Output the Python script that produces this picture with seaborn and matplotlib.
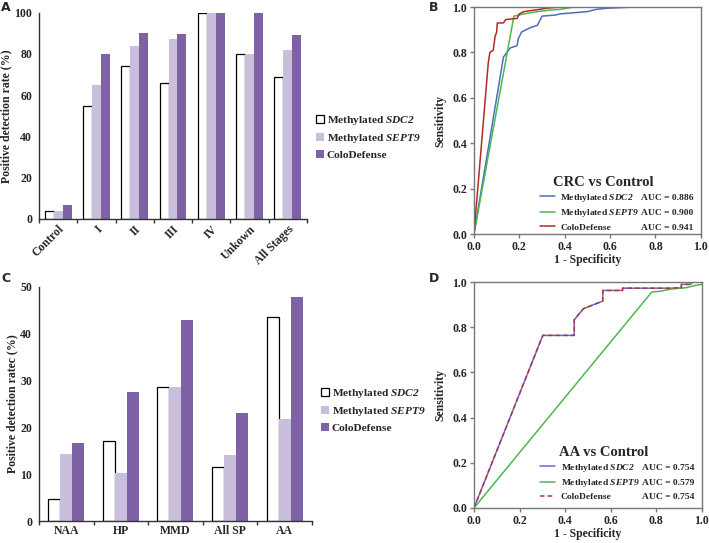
import numpy as np
import pandas as pd
import matplotlib
matplotlib.use("Agg")
import matplotlib.pyplot as plt
import seaborn as sns
from matplotlib.ticker import FixedLocator

# ---- data ----
stages = ["Control", "I", "II", "III", "IV", "Unkown", "All Stages"]
stage_sdc2 = [4, 55, 74, 66, 100, 80, 69]
stage_sept9 = [4, 65, 84, 87, 100, 80, 82]
stage_colo = [7, 80, 90, 89.5, 100, 100, 89]

lesions = ["NAA", "HP", "MMD", "All SP", "AA"]
lesion_sdc2 = [4.8, 17.2, 28.6, 11.5, 43.5]
lesion_sept9 = [14.3, 10.3, 28.6, 14.0, 21.7]
lesion_colo = [16.7, 27.6, 42.9, 23.0, 47.8]

# ROC, CRC vs control
crc_sdc2_fpr = [0.0, 0.13, 0.145, 0.16, 0.19, 0.195, 0.21, 0.25, 0.28, 0.29, 0.30, 0.36, 0.38, 0.50, 0.54, 0.59, 0.70, 1.0]
crc_sdc2_tpr = [0.0, 0.78, 0.80, 0.82, 0.83, 0.86, 0.89, 0.91, 0.92, 0.94, 0.96, 0.965, 0.97, 0.98, 0.99, 0.995, 1.0, 1.0]
crc_sept9_fpr = [0.0, 0.176, 0.22, 0.28, 0.32, 0.38, 0.44, 1.0]
crc_sept9_tpr = [0.0, 0.96, 0.97, 0.98, 0.985, 0.99, 1.0, 1.0]
crc_colo_fpr = [0.0, 0.063, 0.07, 0.085, 0.093, 0.10, 0.103, 0.13, 0.14, 0.19, 0.20, 0.22, 0.29, 0.32, 0.38, 1.0]
crc_colo_tpr = [0.0, 0.753, 0.80, 0.81, 0.87, 0.89, 0.93, 0.93, 0.945, 0.95, 0.97, 0.98, 0.99, 0.995, 1.0, 1.0]

# ROC, AA vs control
aa_sdc2_fpr = [0.0, 0.302, 0.44, 0.44, 0.48, 0.50, 0.565, 0.565, 0.652, 0.652, 0.87, 0.91, 0.91, 0.95, 0.96, 1.0]
aa_sdc2_tpr = [0.0, 0.764, 0.764, 0.833, 0.882, 0.89, 0.916, 0.963, 0.963, 0.973, 0.973, 0.975, 0.99, 0.99, 1.0, 1.0]
aa_colo_fpr = aa_sdc2_fpr
aa_colo_tpr = aa_sdc2_tpr
aa_sept9_fpr = [0.0, 0.78, 0.82, 0.87, 0.93, 0.97, 1.0]
aa_sept9_tpr = [0.0, 0.956, 0.96, 0.97, 0.975, 0.985, 0.99]

crc_auc = ["0.886", "0.900", "0.941"]
aa_auc = ["0.754", "0.579", "0.754"]

assays = ["Methylated SDC2", "Methylated SEPT9", "ColoDefense"]
assay_labels = [r"Methylated $\mathit{SDC2}$", r"Methylated $\mathit{SEPT9}$", "ColoDefense"]

sns.set_theme(style="white")
plt.rcParams["font.family"] = ["Liberation Serif", "DejaVu Serif"]
plt.rcParams["font.weight"] = "bold"
plt.rcParams["mathtext.fontset"] = "custom"
plt.rcParams["mathtext.it"] = "Liberation Serif:italic:bold"
plt.rcParams["mathtext.rm"] = "Liberation Serif:italic:bold"
plt.rcParams["mathtext.bf"] = "Liberation Serif:italic:bold"

bar_colors = ["#ffffff", "#c9bedc", "#7f62a5"]

fig = plt.figure(figsize=(7.09, 5.43), dpi=100)
axA = fig.add_axes([0.055, 0.5967, 0.378, 0.38])
axB = fig.add_axes([0.6685, 0.569, 0.320, 0.418])
axC = fig.add_axes([0.055, 0.0405, 0.385, 0.431])
axD = fig.add_axes([0.6685, 0.0645, 0.3215, 0.416])


def bar_panel(ax, cats, a, b, c, ylabel, ymax, ystep, width, rot, leg_y):
    df = pd.DataFrame({
        "cat": cats * 3,
        "val": a + b + c,
        "assay": [assays[0]] * len(cats) + [assays[1]] * len(cats) + [assays[2]] * len(cats),
    })
    sns.barplot(data=df, x="cat", y="val", hue="assay", palette=bar_colors,
                saturation=1, width=width, legend=False, ax=ax, linewidth=0)
    for i, cont in enumerate(ax.containers):
        for p in cont:
            if i == 0:
                p.set_edgecolor("black")
                p.set_linewidth(0.9)
    ax.set_xlim(-0.5, len(cats) - 0.5)
    ax.set_ylim(0, ymax)
    ax.set_yticks(np.arange(0, ymax + 1, ystep))
    ax.set_xlabel("")
    ax.set_ylabel(ylabel, fontsize=8.5, fontweight="bold", labelpad=1)
    sns.despine(ax=ax)
    for s in ["left", "bottom"]:
        ax.spines[s].set_color("#333333")
        ax.spines[s].set_linewidth(1.0)
    ax.tick_params(axis="y", direction="out", length=3, width=1, color="#333333", labelsize=8.5, pad=2)
    ax.tick_params(axis="x", which="major", length=0, labelsize=8.5, pad=3)
    ax.xaxis.set_minor_locator(FixedLocator(np.arange(-0.5, len(cats), 1)))
    ax.tick_params(axis="x", which="minor", direction="out", length=3, width=1, color="#333333", bottom=True)
    for t in ax.get_xticklabels():
        t.set_fontweight("bold")
        if rot:
            t.set_rotation(rot)
            t.set_ha("right")
            t.set_rotation_mode("anchor")
    for t in ax.get_yticklabels():
        t.set_fontweight("bold")
    handles = [cont[0] for cont in ax.containers]
    ax.legend(handles, assay_labels, loc="center left", bbox_to_anchor=(1.015, leg_y),
              frameon=False, fontsize=8.2, handlelength=0.75, handleheight=0.75,
              handletextpad=0.25, labelspacing=0.45, borderaxespad=0)


bar_panel(axA, stages, stage_sdc2, stage_sept9, stage_colo,
          "Positive detection rate (%)", 100, 20, 0.7, 45, 0.397)
bar_panel(axC, lesions, lesion_sdc2, lesion_sept9, lesion_colo,
          "Positive detection ratec (%)", 50, 10, 0.66, 0, 0.474)


def roc_panel(ax, curves, colors, dashed, title, aucs, leg_y):
    frames = []
    for name, (fx, ty) in zip(assays, curves):
        frames.append(pd.DataFrame({"fpr": fx, "tpr": ty, "assay": name}))
    df = pd.concat(frames, ignore_index=True)
    dashes = {a: ((3, 2) if a in dashed else "") for a in assays}
    sns.lineplot(data=df, x="fpr", y="tpr", hue="assay", style="assay", dashes=dashes,
                 palette=colors, hue_order=assays, style_order=assays,
                 sort=False, estimator=None, units="assay", legend=False,
                 linewidth=1.1, ax=ax)
    ticks = np.arange(0, 1.01, 0.2)
    ax.set_xlim(0, 1)
    ax.set_ylim(0, 1)
    ax.set_xticks(ticks)
    ax.set_yticks(ticks)
    ax.set_xticklabels([f"{v:.1f}" for v in ticks])
    ax.set_yticklabels([f"{v:.1f}" for v in ticks])
    ax.set_xlabel("1 - Specificity", fontsize=8.5, fontweight="bold", labelpad=1)
    ax.set_ylabel("Sensitivity", fontsize=8.5, fontweight="bold", labelpad=4)
    for s in ax.spines.values():
        s.set_visible(True)
        s.set_color("#777777")
        s.set_linewidth(1.0)
    ax.tick_params(direction="out", length=3, width=1, color="#777777", labelsize=8.5, pad=2,
                   bottom=True, left=True)
    for t in ax.get_xticklabels() + ax.get_yticklabels():
        t.set_fontweight("bold")
    lines = ax.get_lines()[:3]
    leg = ax.legend(lines, assay_labels, loc="lower left",
                    bbox_to_anchor=(0.26, leg_y), frameon=False, fontsize=6.8,
                    handlelength=1.6, handletextpad=0.6,
                    labelspacing=0.38, borderaxespad=0.3)
    fig.canvas.draw()
    inv = ax.transAxes.inverted()
    ys = []
    for txt, auc in zip(leg.get_texts(), aucs):
        bb = txt.get_window_extent()
        y = inv.transform(((bb.x0 + bb.x1) / 2, (bb.y0 + bb.y1) / 2))[1]
        ys.append(y)
        ax.text(0.735, y, f"AUC = {auc}", transform=ax.transAxes, fontsize=6.8,
                fontweight="bold", va="center", ha="left")
    ax.text(0.57, ys[0] + 0.068, title, transform=ax.transAxes, fontsize=10.5,
            fontweight="bold", va="center", ha="center")


roc_panel(axB, [(crc_sdc2_fpr, crc_sdc2_tpr), (crc_sept9_fpr, crc_sept9_tpr), (crc_colo_fpr, crc_colo_tpr)],
          ["#4e6cc4", "#4cb84c", "#b22a2a"], [], "CRC vs Control", crc_auc, -0.018)
roc_panel(axD, [(aa_sdc2_fpr, aa_sdc2_tpr), (aa_sept9_fpr, aa_sept9_tpr), (aa_colo_fpr, aa_colo_tpr)],
          ["#6f66d8", "#4cb84c", "#a83a3a"], ["ColoDefense"], "AA vs Control", aa_auc, 0.0)

for lab, x, y in [("A", 0.002, 0.998), ("B", 0.605, 0.998), ("C", 0.002, 0.5), ("D", 0.605, 0.5)]:
    fig.text(x, y, lab, fontsize=9, fontweight="bold", family="DejaVu Sans", va="top", ha="left")

fig.savefig("out.png", dpi=100)
